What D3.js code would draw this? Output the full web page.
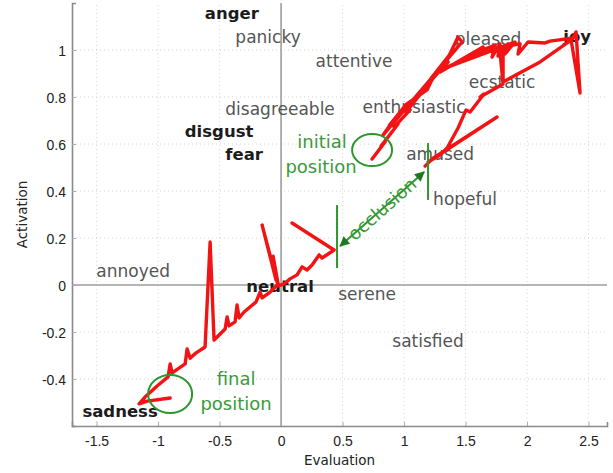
<!DOCTYPE html>
<html>
<head>
<meta charset="utf-8">
<script src="https://cdn.jsdelivr.net/npm/d3@7"></script>
<style>
  body { margin: 0; background: #fff; }
  svg { font-family: "DejaVu Sans", sans-serif; }
  .grid line { stroke: #d4d4d4; stroke-width: 1; stroke-dasharray: 1 3; }
  .word { fill: #555; font-size: 17px; }
  .word.basic { fill: #1c1c1c; font-size: 16.5px; font-weight: bold; }
  .tick-label { fill: #222; font-size: 14px; }
  .note { fill: #3a9a3a; font-size: 18px; }
</style>
</head>
<body>
<svg id="chart" width="613" height="473"></svg>
<script>
// ticks
const xTicks = [-1.5, -1, -0.5, 0, 0.5, 1, 1.5, 2, 2.5];
const yTicks = [-0.4, -0.2, 0, 0.2, 0.4, 0.6, 0.8, 1];

// emotion words in evaluation / activation space
const words = ['anger', 'panicky', 'attentive', 'disagreeable', 'disgust', 'fear',
  'enthusiastic', 'pleased', 'joy', 'ecstatic', 'amused', 'hopeful',
  'annoyed', 'neutral', 'serene', 'satisfied', 'sadness'];
const wordEval = [-0.40, -0.106, 0.593, -0.008, -0.504, -0.30,
  1.081, 1.683, 2.407, 1.797, 1.293, 1.496,
  -1.203, -0.008, 0.699, 1.195, -1.309];
const wordAct = [1.13, 1.03, 0.928, 0.723, 0.63, 0.532,
  0.732, 1.021, 1.034, 0.838, 0.532, 0.34,
  0.034, -0.03, -0.064, -0.264, -0.562];
const basicEmotions = ['anger', 'disgust', 'fear', 'joy', 'neutral', 'sadness'];

// tracked trajectory before the occlusion
const trackBefore = [[0.74,0.536],[0.846,0.609],[0.813,0.591],[0.951,0.685],[0.919,0.672],
  [1.049,0.745],[1.016,0.736],[1.146,0.821],[1.114,0.809],[1.228,0.872],[1.195,0.855],
  [1.309,0.923],[1.358,0.949],[1.333,0.94],[1.439,1.055],[1.472,1.034],
  [0.829,0.638],[0.9,0.69],[0.88,0.68],[1.02,0.77],[1.187,0.83],[1.25,0.9],[1.3,0.93],
  [1.22,0.88],[1.4,1.0],[1.293,0.906],
  [1.642,1.013],[1.537,0.979],[1.74,1.021],[1.715,0.97],[1.78,1.026],[1.764,0.974],
  [1.846,1.026],[1.821,0.983],[1.902,1.034],[1.293,0.915],[1.667,1.0],[1.943,1.026],
  [1.927,0.983],[2.008,1.034],[2.146,1.03],[2.187,1.038],[2.374,1.051],[2.398,1.077],
  [2.431,0.817],[2.358,1.042],[2.106,0.949],[1.805,0.864],[1.805,1.013],[1.78,0.991],
  [1.805,0.855],[1.618,0.8],[1.65,0.813],[1.537,0.736],[1.504,0.745],[1.439,0.668],
  [1.35,0.583],[1.293,0.553],[1.195,0.523],[1.756,0.715],[1.236,0.54],[1.171,0.506]];

// tracked trajectory after the occlusion
const trackAfter = [[0.089,0.264],[0.431,0.149],[0.382,0.132],[0.333,0.115],[0.309,0.128],
  [0.252,0.085],[0.211,0.064],[0.171,0.077],[0.13,0.043],[0.073,0.026],[0.024,0.004],
  [-0.024,-0.004],[-0.154,0.255],[-0.041,0.021],[-0.065,0.123],[-0.024,0.004],
  [-0.089,-0.03],[-0.154,-0.055],[-0.171,-0.03],[-0.203,-0.072],[-0.301,-0.115],
  [-0.341,-0.14],[-0.358,-0.085],[-0.374,-0.157],[-0.423,-0.174],[-0.439,-0.136],
  [-0.455,-0.187],[-0.545,-0.234],[-0.577,0.183],[-0.618,-0.264],[-0.691,-0.289],
  [-0.74,-0.311],[-0.764,-0.272],[-0.78,-0.336],[-0.886,-0.374],[-0.902,-0.336],
  [-0.919,-0.391],[-1.008,-0.43],[-1.106,-0.477],[-1.154,-0.506],[-1.089,-0.494],
  [-0.902,-0.481]];

// annotations
const initialPos = [0.74, 0.574];
const finalPos = [-0.902, -0.464];
const occlusionFrom = [0.48, 0.166];
const occlusionTo = [1.163, 0.481];
const occlusionBars = [[0.455, 0.072, 0.34], [1.195, 0.362, 0.604]];

const svg = d3.select('svg#chart');

const x = d3.scaleLinear().domain([-1.7, 2.65]).range([72, 607]);
const y = d3.scaleLinear().domain([-0.6, 1.2]).range([426, 3]);

// grid
const grid = svg.append('g').classed('grid', true);
grid.selectAll('line.v').data(xTicks.filter(d => d !== 0)).enter().append('line')
  .attr('x1', d => x(d)).attr('x2', d => x(d))
  .attr('y1', y.range()[0]).attr('y2', y.range()[1]);
grid.selectAll('line.h').data(yTicks.filter(d => d !== 0)).enter().append('line')
  .attr('y1', d => y(d)).attr('y2', d => y(d))
  .attr('x1', x.range()[0]).attr('x2', x.range()[1]);

// zero lines
svg.append('line')
  .attr('x1', x(0)).attr('x2', x(0)).attr('y1', y.range()[0]).attr('y2', y.range()[1])
  .attr('stroke', '#9d9d9d').attr('stroke-width', 1.6);
svg.append('line')
  .attr('y1', y(0)).attr('y2', y(0)).attr('x1', x.range()[0]).attr('x2', x.range()[1])
  .attr('stroke', '#9d9d9d').attr('stroke-width', 1.6);

// axes (ticks inside, matlab style)
const axisX = d3.axisBottom(x).tickValues(xTicks).tickSize(-4).tickPadding(10)
  .tickFormat(d => String(d));
const axisY = d3.axisLeft(y).tickValues(yTicks).tickSize(-4).tickPadding(6)
  .tickFormat(d => String(d));

const gx = svg.append('g').attr('transform', 'translate(0,' + y.range()[0] + ')').call(axisX);
const gy = svg.append('g').attr('transform', 'translate(' + x.range()[0] + ',0)').call(axisY);
[gx, gy].forEach(g => {
  g.select('.domain').attr('stroke', '#8a8a8a').attr('stroke-width', 1.6);
  g.selectAll('.tick line').attr('stroke', '#aaa');
  g.selectAll('.tick text').attr('class', 'tick-label').attr('font-family', null).attr('font-size', null);
});
gy.selectAll('.tick text').attr('dy', '0.36em');

svg.append('text')
  .attr('x', (x.range()[0] + x.range()[1]) / 2).attr('y', 465)
  .attr('text-anchor', 'middle').attr('font-size', 13.5).attr('fill', '#222')
  .text('Evaluation');
svg.append('text')
  .attr('transform', 'translate(27,' + ((y.range()[0] + y.range()[1]) / 2) + ') rotate(-90)')
  .attr('text-anchor', 'middle').attr('font-size', 13.5).attr('fill', '#222')
  .text('Activation');

// emotion words
svg.append('g').selectAll('text').data(words).enter().append('text')
  .attr('class', d => basicEmotions.includes(d) ? 'word basic' : 'word')
  .attr('x', (d, i) => x(wordEval[i]))
  .attr('y', (d, i) => y(wordAct[i]))
  .attr('text-anchor', 'middle')
  .text(d => d);

// trajectory
const line = d3.line().x(d => x(d[0])).y(d => y(d[1]));
[trackBefore, trackAfter].forEach(track => {
  svg.append('path').datum(track)
    .attr('d', line)
    .attr('fill', 'none')
    .attr('stroke', '#f21414')
    .attr('stroke-width', 3.4)
    .attr('stroke-linejoin', 'round')
    .attr('stroke-linecap', 'round');
});

// green annotations
const green = '#2e952e';
svg.append('ellipse')
  .attr('cx', x(initialPos[0])).attr('cy', y(initialPos[1]))
  .attr('rx', 20).attr('ry', 16)
  .attr('fill', 'none').attr('stroke', green).attr('stroke-width', 2);
svg.append('ellipse')
  .attr('cx', x(finalPos[0])).attr('cy', y(finalPos[1]))
  .attr('rx', 22).attr('ry', 19)
  .attr('fill', 'none').attr('stroke', green).attr('stroke-width', 2);

const notes = [['initial', 0.333, 0.583], ['position', 0.325, 0.477],
  ['final', -0.366, -0.426], ['position', -0.366, -0.532]];
svg.append('g').selectAll('text').data(notes).enter().append('text')
  .attr('class', 'note')
  .attr('x', d => x(d[1])).attr('y', d => y(d[2]))
  .attr('text-anchor', 'middle')
  .text(d => d[0]);

const defs = svg.append('defs');
defs.append('marker')
  .attr('id', 'head')
  .attr('viewBox', '0 0 10 10')
  .attr('refX', 9).attr('refY', 5)
  .attr('markerWidth', 12).attr('markerHeight', 10)
  .attr('markerUnits', 'userSpaceOnUse')
  .attr('orient', 'auto-start-reverse')
  .append('path').attr('d', 'M0,0L10,5L0,10Z').attr('fill', '#1f7a1f');

svg.append('line')
  .attr('x1', x(occlusionFrom[0])).attr('y1', y(occlusionFrom[1]))
  .attr('x2', x(occlusionTo[0])).attr('y2', y(occlusionTo[1]))
  .attr('stroke', green).attr('stroke-width', 2)
  .attr('marker-start', 'url(#head)').attr('marker-end', 'url(#head)');

svg.append('g').selectAll('line').data(occlusionBars).enter().append('line')
  .attr('x1', d => x(d[0])).attr('x2', d => x(d[0]))
  .attr('y1', d => y(d[1])).attr('y2', d => y(d[2]))
  .attr('stroke', green).attr('stroke-width', 2);

const ax = x(occlusionFrom[0]), ay = y(occlusionFrom[1]);
const bx = x(occlusionTo[0]), by = y(occlusionTo[1]);
const angle = Math.atan2(by - ay, bx - ax) * 180 / Math.PI;
svg.append('text')
  .attr('class', 'note')
  .attr('transform', 'translate(' + ((ax + bx) / 2) + ',' + ((ay + by) / 2) + ') rotate(' + angle + ')')
  .attr('text-anchor', 'middle')
  .attr('dy', '0.35em')
  .text('occlusion');
</script>
</body>
</html>
